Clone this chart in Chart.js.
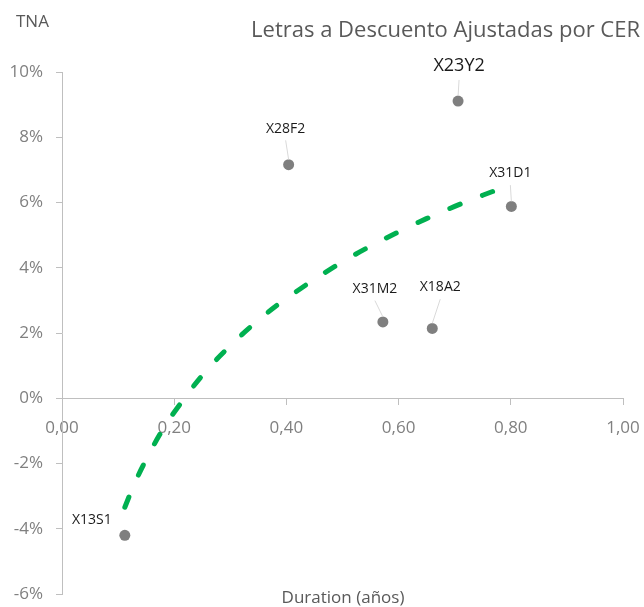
<!DOCTYPE html>
<html>
<head>
<meta charset="utf-8">
<script src="https://cdn.jsdelivr.net/npm/chart.js@4.4.1/dist/chart.umd.min.js"></script>
<style>
    html, body { margin: 0; padding: 0; background: #ffffff; }
    #wrap { width: 644px; height: 607px; }
</style>
</head>
<body>
<div id="wrap"><canvas id="cerChart" width="644" height="607"></canvas></div>
<script>
// Letras por CER: duration (años) vs TNA (%)
const bondNames = ["X13S1", "X28F2", "X31M2", "X18A2", "X23Y2", "X31D1"];
const bondDuration = [0.112, 0.404, 0.572, 0.660, 0.706, 0.801];
const bondTna = [-4.20, 7.16, 2.34, 2.14, 9.11, 5.88];

// dashed trend curve
const trendDuration = [0.112, 0.125, 0.14, 0.16, 0.18, 0.20, 0.25, 0.30, 0.35, 0.40, 0.50, 0.60, 0.70, 0.80];
const trendTna = [-3.34, -2.79, -2.22, -1.55, -0.95, -0.43, 0.70, 1.61, 2.39, 3.06, 4.18, 5.10, 5.88, 6.55];

const yTicks = [-6, -4, -2, 0, 2, 4, 6, 8, 10];
const xTicks = [0, 0.2, 0.4, 0.6, 0.8, 1.0];

const FONT = "'Open Sans', 'Noto Sans', sans-serif";

// label placement per bond (offset from the point, in px)
const labelPlacement = {
    "X13S1": { dx: -33, dy: -15, size: 14, leader: false },
    "X28F2": { dx: -3, dy: -36, size: 14, leader: true },
    "X31M2": { dx: -8, dy: -33, size: 14, leader: true },
    "X18A2": { dx: 8, dy: -41, size: 14, leader: true },
    "X23Y2": { dx: 1, dy: -35, size: 18, leader: true },
    "X31D1": { dx: -1, dy: -33, size: 14, leader: true }
};

const pointLabels = {
    id: "pointLabels",
    afterDatasetsDraw(chart) {
        const ctx = chart.ctx;
        const meta = chart.getDatasetMeta(0);
        ctx.save();
        meta.data.forEach((pt, i) => {
            const name = bondNames[i];
            const p = labelPlacement[name];
            const lx = pt.x + p.dx;
            const ly = pt.y + p.dy;
            if (p.leader) {
                ctx.strokeStyle = "#d9d9d9";
                ctx.lineWidth = 1;
                ctx.beginPath();
                ctx.moveTo(lx, ly + p.size * 0.55 + 4);
                ctx.lineTo(pt.x, pt.y - 5);
                ctx.stroke();
            }
            ctx.fillStyle = "#1a1a1a";
            ctx.font = p.size + "px " + FONT;
            ctx.textAlign = "center";
            ctx.textBaseline = "middle";
            ctx.fillText(name, lx, ly);
        });
        ctx.restore();
    }
};

const chartTexts = {
    id: "chartTexts",
    afterDraw(chart) {
        const ctx = chart.ctx;
        ctx.save();
        ctx.fillStyle = "#595959";
        ctx.textBaseline = "alphabetic";

        ctx.font = "22px " + FONT;
        ctx.textAlign = "right";
        ctx.fillText("Letras a Descuento Ajustadas por CER", 640, 37);

        ctx.font = "17px " + FONT;
        ctx.textAlign = "left";
        ctx.fillText("TNA", 16, 27);

        ctx.textAlign = "center";
        ctx.fillText("Duration (años)", 343, 603);
        ctx.restore();
    }
};

function noAxisPadding(axis) {
    axis.paddingTop = 0;
    axis.paddingBottom = 0;
    axis.paddingLeft = 0;
    axis.paddingRight = 0;
}

document.addEventListener("DOMContentLoaded", function () {
    const ctx = document.getElementById("cerChart").getContext("2d");

    new Chart(ctx, {
        type: "scatter",
        data: {
            datasets: [
                {
                    label: "Letras",
                    data: bondDuration.map((d, i) => ({ x: d, y: bondTna[i] })),
                    backgroundColor: "#7f7f7f",
                    borderWidth: 0,
                    pointRadius: 5.5,
                    pointHoverRadius: 5.5
                },
                {
                    label: "Tendencia",
                    data: trendDuration.map((d, i) => ({ x: d, y: trendTna[i] })),
                    showLine: true,
                    borderColor: "#00b050",
                    borderWidth: 5,
                    borderDash: [11, 24],
                    borderCapStyle: "round",
                    tension: 0.4,
                    pointRadius: 0,
                    fill: false
                }
            ]
        },
        options: {
            responsive: false,
            animation: false,
            devicePixelRatio: 1,
            layout: { padding: { top: 72, left: 0, right: 21, bottom: 13 } },
            plugins: {
                legend: { display: false },
                tooltip: { enabled: false },
                title: { display: false }
            },
            scales: {
                x: {
                    type: "linear",
                    position: { y: 0 },
                    min: 0,
                    max: 1,
                    afterBuildTicks: (axis) => { axis.ticks = xTicks.map(v => ({ value: v })); },
                    afterFit: (axis) => { axis.height = 0; noAxisPadding(axis); },
                    grid: { drawOnChartArea: false, drawTicks: true, tickLength: 6, color: "#bfbfbf" },
                    border: { color: "#bfbfbf", width: 1 },
                    ticks: {
                        padding: 14,
                        color: "#808080",
                        font: { family: FONT, size: 17 },
                        maxRotation: 0,
                        callback: (v) => Number(v).toFixed(2).replace(".", ",")
                    }
                },
                y: {
                    type: "linear",
                    min: -6,
                    max: 10,
                    afterBuildTicks: (axis) => { axis.ticks = yTicks.map(v => ({ value: v })); },
                    afterFit: (axis) => { axis.width = 62; noAxisPadding(axis); },
                    grid: { drawOnChartArea: false, drawTicks: true, tickLength: 6, color: "#bfbfbf" },
                    border: { color: "#bfbfbf", width: 1 },
                    ticks: {
                        padding: 13,
                        color: "#808080",
                        font: { family: FONT, size: 17 },
                        callback: (v) => v + "%"
                    }
                }
            }
        },
        plugins: [pointLabels, chartTexts]
    });
});
</script>
</body>
</html>
